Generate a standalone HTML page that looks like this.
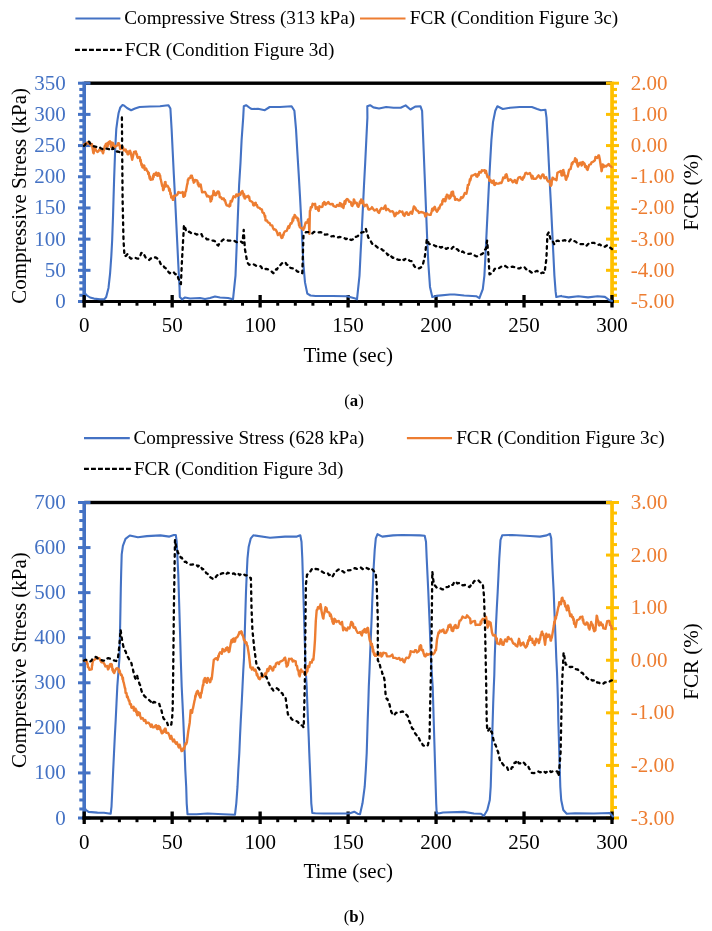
<!DOCTYPE html>
<html><head><meta charset="utf-8"><style>
html,body{margin:0;padding:0;background:#fff;}
body{width:712px;height:931px;overflow:hidden;}
svg{display:block;font-family:"Liberation Serif", serif;will-change:transform;}
</style></head><body>
<svg width="712" height="931" viewBox="0 0 712 931">
<rect width="712" height="931" fill="#fff"/>
<rect x="84.20" y="81.50" width="527.80" height="3.40" fill="#000"/>
<rect x="82.40" y="81.70" width="3.60" height="221.30" fill="#4472C4"/>
<rect x="78.00" y="300.00" width="12.50" height="3.00" fill="#4472C4"/>
<rect x="79.30" y="293.76" width="4.90" height="3.00" fill="#4472C4"/>
<rect x="79.30" y="287.53" width="4.90" height="3.00" fill="#4472C4"/>
<rect x="79.30" y="281.29" width="4.90" height="3.00" fill="#4472C4"/>
<rect x="79.30" y="275.05" width="4.90" height="3.00" fill="#4472C4"/>
<rect x="78.00" y="268.81" width="12.50" height="3.00" fill="#4472C4"/>
<rect x="79.30" y="262.58" width="4.90" height="3.00" fill="#4472C4"/>
<rect x="79.30" y="256.34" width="4.90" height="3.00" fill="#4472C4"/>
<rect x="79.30" y="250.10" width="4.90" height="3.00" fill="#4472C4"/>
<rect x="79.30" y="243.87" width="4.90" height="3.00" fill="#4472C4"/>
<rect x="78.00" y="237.63" width="12.50" height="3.00" fill="#4472C4"/>
<rect x="79.30" y="231.39" width="4.90" height="3.00" fill="#4472C4"/>
<rect x="79.30" y="225.15" width="4.90" height="3.00" fill="#4472C4"/>
<rect x="79.30" y="218.92" width="4.90" height="3.00" fill="#4472C4"/>
<rect x="79.30" y="212.68" width="4.90" height="3.00" fill="#4472C4"/>
<rect x="78.00" y="206.44" width="12.50" height="3.00" fill="#4472C4"/>
<rect x="79.30" y="200.21" width="4.90" height="3.00" fill="#4472C4"/>
<rect x="79.30" y="193.97" width="4.90" height="3.00" fill="#4472C4"/>
<rect x="79.30" y="187.73" width="4.90" height="3.00" fill="#4472C4"/>
<rect x="79.30" y="181.49" width="4.90" height="3.00" fill="#4472C4"/>
<rect x="78.00" y="175.26" width="12.50" height="3.00" fill="#4472C4"/>
<rect x="79.30" y="169.02" width="4.90" height="3.00" fill="#4472C4"/>
<rect x="79.30" y="162.78" width="4.90" height="3.00" fill="#4472C4"/>
<rect x="79.30" y="156.55" width="4.90" height="3.00" fill="#4472C4"/>
<rect x="79.30" y="150.31" width="4.90" height="3.00" fill="#4472C4"/>
<rect x="78.00" y="144.07" width="12.50" height="3.00" fill="#4472C4"/>
<rect x="79.30" y="137.83" width="4.90" height="3.00" fill="#4472C4"/>
<rect x="79.30" y="131.60" width="4.90" height="3.00" fill="#4472C4"/>
<rect x="79.30" y="125.36" width="4.90" height="3.00" fill="#4472C4"/>
<rect x="79.30" y="119.12" width="4.90" height="3.00" fill="#4472C4"/>
<rect x="78.00" y="112.89" width="12.50" height="3.00" fill="#4472C4"/>
<rect x="79.30" y="106.65" width="4.90" height="3.00" fill="#4472C4"/>
<rect x="79.30" y="100.41" width="4.90" height="3.00" fill="#4472C4"/>
<rect x="79.30" y="94.17" width="4.90" height="3.00" fill="#4472C4"/>
<rect x="79.30" y="87.94" width="4.90" height="3.00" fill="#4472C4"/>
<rect x="78.00" y="81.70" width="12.50" height="3.00" fill="#4472C4"/>
<text x="65.80" y="308.00" font-size="21" fill="#4472C4" text-anchor="end" >0</text>
<text x="65.80" y="276.81" font-size="21" fill="#4472C4" text-anchor="end" >50</text>
<text x="65.80" y="245.63" font-size="21" fill="#4472C4" text-anchor="end" >100</text>
<text x="65.80" y="214.44" font-size="21" fill="#4472C4" text-anchor="end" >150</text>
<text x="65.80" y="183.26" font-size="21" fill="#4472C4" text-anchor="end" >200</text>
<text x="65.80" y="152.07" font-size="21" fill="#4472C4" text-anchor="end" >250</text>
<text x="65.80" y="120.89" font-size="21" fill="#4472C4" text-anchor="end" >300</text>
<text x="65.80" y="89.70" font-size="21" fill="#4472C4" text-anchor="end" >350</text>
<rect x="610.20" y="81.70" width="3.70" height="221.30" fill="#FFC000"/>
<rect x="606.00" y="300.00" width="13.00" height="3.00" fill="#FFC000"/>
<rect x="612.00" y="293.76" width="5.00" height="3.00" fill="#FFC000"/>
<rect x="612.00" y="287.53" width="5.00" height="3.00" fill="#FFC000"/>
<rect x="612.00" y="281.29" width="5.00" height="3.00" fill="#FFC000"/>
<rect x="612.00" y="275.05" width="5.00" height="3.00" fill="#FFC000"/>
<rect x="606.00" y="268.81" width="13.00" height="3.00" fill="#FFC000"/>
<rect x="612.00" y="262.58" width="5.00" height="3.00" fill="#FFC000"/>
<rect x="612.00" y="256.34" width="5.00" height="3.00" fill="#FFC000"/>
<rect x="612.00" y="250.10" width="5.00" height="3.00" fill="#FFC000"/>
<rect x="612.00" y="243.87" width="5.00" height="3.00" fill="#FFC000"/>
<rect x="606.00" y="237.63" width="13.00" height="3.00" fill="#FFC000"/>
<rect x="612.00" y="231.39" width="5.00" height="3.00" fill="#FFC000"/>
<rect x="612.00" y="225.15" width="5.00" height="3.00" fill="#FFC000"/>
<rect x="612.00" y="218.92" width="5.00" height="3.00" fill="#FFC000"/>
<rect x="612.00" y="212.68" width="5.00" height="3.00" fill="#FFC000"/>
<rect x="606.00" y="206.44" width="13.00" height="3.00" fill="#FFC000"/>
<rect x="612.00" y="200.21" width="5.00" height="3.00" fill="#FFC000"/>
<rect x="612.00" y="193.97" width="5.00" height="3.00" fill="#FFC000"/>
<rect x="612.00" y="187.73" width="5.00" height="3.00" fill="#FFC000"/>
<rect x="612.00" y="181.49" width="5.00" height="3.00" fill="#FFC000"/>
<rect x="606.00" y="175.26" width="13.00" height="3.00" fill="#FFC000"/>
<rect x="612.00" y="169.02" width="5.00" height="3.00" fill="#FFC000"/>
<rect x="612.00" y="162.78" width="5.00" height="3.00" fill="#FFC000"/>
<rect x="612.00" y="156.55" width="5.00" height="3.00" fill="#FFC000"/>
<rect x="612.00" y="150.31" width="5.00" height="3.00" fill="#FFC000"/>
<rect x="606.00" y="144.07" width="13.00" height="3.00" fill="#FFC000"/>
<rect x="612.00" y="137.83" width="5.00" height="3.00" fill="#FFC000"/>
<rect x="612.00" y="131.60" width="5.00" height="3.00" fill="#FFC000"/>
<rect x="612.00" y="125.36" width="5.00" height="3.00" fill="#FFC000"/>
<rect x="612.00" y="119.12" width="5.00" height="3.00" fill="#FFC000"/>
<rect x="606.00" y="112.89" width="13.00" height="3.00" fill="#FFC000"/>
<rect x="612.00" y="106.65" width="5.00" height="3.00" fill="#FFC000"/>
<rect x="612.00" y="100.41" width="5.00" height="3.00" fill="#FFC000"/>
<rect x="612.00" y="94.17" width="5.00" height="3.00" fill="#FFC000"/>
<rect x="612.00" y="87.94" width="5.00" height="3.00" fill="#FFC000"/>
<rect x="606.00" y="81.70" width="13.00" height="3.00" fill="#FFC000"/>
<text x="630.80" y="308.00" font-size="21" fill="#ED7D31" text-anchor="start" >-5.00</text>
<text x="630.80" y="276.81" font-size="21" fill="#ED7D31" text-anchor="start" >-4.00</text>
<text x="630.80" y="245.63" font-size="21" fill="#ED7D31" text-anchor="start" >-3.00</text>
<text x="630.80" y="214.44" font-size="21" fill="#ED7D31" text-anchor="start" >-2.00</text>
<text x="630.80" y="183.26" font-size="21" fill="#ED7D31" text-anchor="start" >-1.00</text>
<text x="630.80" y="152.07" font-size="21" fill="#ED7D31" text-anchor="start" >0.00</text>
<text x="630.80" y="120.89" font-size="21" fill="#ED7D31" text-anchor="start" >1.00</text>
<text x="630.80" y="89.70" font-size="21" fill="#ED7D31" text-anchor="start" >2.00</text>
<rect x="82.40" y="300.00" width="531.50" height="3.00" fill="#000"/>
<rect x="82.55" y="295.00" width="3.30" height="12.50" fill="#000"/>
<rect x="100.29" y="301.50" width="3.00" height="4.20" fill="#000"/>
<rect x="117.89" y="301.50" width="3.00" height="4.20" fill="#000"/>
<rect x="135.48" y="301.50" width="3.00" height="4.20" fill="#000"/>
<rect x="153.07" y="301.50" width="3.00" height="4.20" fill="#000"/>
<rect x="170.52" y="295.00" width="3.30" height="12.50" fill="#000"/>
<rect x="188.26" y="301.50" width="3.00" height="4.20" fill="#000"/>
<rect x="205.85" y="301.50" width="3.00" height="4.20" fill="#000"/>
<rect x="223.45" y="301.50" width="3.00" height="4.20" fill="#000"/>
<rect x="241.04" y="301.50" width="3.00" height="4.20" fill="#000"/>
<rect x="258.48" y="295.00" width="3.30" height="12.50" fill="#000"/>
<rect x="276.23" y="301.50" width="3.00" height="4.20" fill="#000"/>
<rect x="293.82" y="301.50" width="3.00" height="4.20" fill="#000"/>
<rect x="311.41" y="301.50" width="3.00" height="4.20" fill="#000"/>
<rect x="329.01" y="301.50" width="3.00" height="4.20" fill="#000"/>
<rect x="346.45" y="295.00" width="3.30" height="12.50" fill="#000"/>
<rect x="364.19" y="301.50" width="3.00" height="4.20" fill="#000"/>
<rect x="381.79" y="301.50" width="3.00" height="4.20" fill="#000"/>
<rect x="399.38" y="301.50" width="3.00" height="4.20" fill="#000"/>
<rect x="416.97" y="301.50" width="3.00" height="4.20" fill="#000"/>
<rect x="434.42" y="295.00" width="3.30" height="12.50" fill="#000"/>
<rect x="452.16" y="301.50" width="3.00" height="4.20" fill="#000"/>
<rect x="469.75" y="301.50" width="3.00" height="4.20" fill="#000"/>
<rect x="487.35" y="301.50" width="3.00" height="4.20" fill="#000"/>
<rect x="504.94" y="301.50" width="3.00" height="4.20" fill="#000"/>
<rect x="522.38" y="295.00" width="3.30" height="12.50" fill="#000"/>
<rect x="540.13" y="301.50" width="3.00" height="4.20" fill="#000"/>
<rect x="557.72" y="301.50" width="3.00" height="4.20" fill="#000"/>
<rect x="575.31" y="301.50" width="3.00" height="4.20" fill="#000"/>
<rect x="592.91" y="301.50" width="3.00" height="4.20" fill="#000"/>
<rect x="610.35" y="295.00" width="3.30" height="12.50" fill="#000"/>
<text x="84.20" y="332.30" font-size="21" fill="#000" text-anchor="middle" >0</text>
<text x="172.17" y="332.30" font-size="21" fill="#000" text-anchor="middle" >50</text>
<text x="260.13" y="332.30" font-size="21" fill="#000" text-anchor="middle" >100</text>
<text x="348.10" y="332.30" font-size="21" fill="#000" text-anchor="middle" >150</text>
<text x="436.07" y="332.30" font-size="21" fill="#000" text-anchor="middle" >200</text>
<text x="524.03" y="332.30" font-size="21" fill="#000" text-anchor="middle" >250</text>
<text x="612.00" y="332.30" font-size="21" fill="#000" text-anchor="middle" >300</text>
<text x="348.20" y="361.50" font-size="21" fill="#000" text-anchor="middle" >Time (sec)</text>
<text transform="translate(25.9,195.90) rotate(-90)" font-size="21" text-anchor="middle">Compressive Stress (kPa)</text>
<text transform="translate(698.0,192.30) rotate(-90)" font-size="21" text-anchor="middle">FCR (%)</text>
<path d="M84.0,292.6 L87.0,295.5 L90.0,297.5 L94.0,298.6 L100.0,299.2 L104.5,299.2 L106.2,297.0 L108.5,287.9 L110.1,273.3 L111.3,256.4 L112.2,239.5 L113.0,216.9 L113.5,199.8 L114.1,179.6 L114.7,162.6 L115.2,149.1 L115.8,137.8 L116.3,128.8 L117.5,119.8 L118.6,113.0 L120.3,107.4 L122.5,105.1 L124.0,105.5 L127.0,108.0 L131.1,110.2 L135.0,108.5 L139.6,107.0 L150.0,106.5 L160.0,106.3 L166.0,105.5 L168.5,105.2 L170.4,108.5 L171.6,128.9 L172.7,151.5 L173.8,174.0 L175.0,196.6 L176.1,219.2 L177.2,241.8 L178.3,264.4 L179.5,287.0 L179.8,297.0 L182.0,299.3 L185.0,297.5 L190.0,298.5 L200.0,298.0 L205.0,299.0 L210.0,298.0 L215.0,296.5 L220.0,297.5 L228.0,298.0 L233.0,299.3 L235.5,275.6 L236.4,253.0 L237.3,230.4 L238.2,207.9 L239.1,185.3 L240.5,162.7 L241.6,140.1 L243.2,117.6 L243.8,106.3 L246.1,105.2 L250.6,108.5 L252.0,109.0 L258.0,108.8 L264.8,110.2 L269.7,107.0 L280.0,107.0 L291.6,106.3 L294.4,110.8 L296.0,128.9 L297.3,151.4 L298.7,174.0 L300.0,196.6 L301.2,219.2 L302.3,241.7 L303.4,264.3 L305.0,282.4 L307.3,293.6 L310.5,295.5 L315.6,296.0 L332.5,296.0 L347.0,296.2 L355.4,298.6 L357.0,299.3 L359.5,275.6 L360.6,253.0 L361.8,230.4 L362.9,207.9 L364.0,185.3 L365.2,162.7 L366.3,140.1 L367.4,117.6 L367.3,106.3 L370.1,105.2 L373.4,107.4 L379.0,108.5 L386.2,107.0 L393.5,107.8 L400.7,107.8 L405.6,105.4 L410.4,109.5 L415.2,106.6 L420.5,106.3 L422.1,110.8 L422.8,128.9 L423.7,151.4 L424.6,174.0 L425.5,196.6 L426.4,219.2 L427.3,241.7 L428.4,264.3 L430.0,286.9 L432.3,297.0 L436.3,295.9 L450.0,294.5 L454.5,294.5 L464.2,295.5 L476.2,296.2 L479.4,298.2 L482.8,289.2 L484.4,275.6 L485.6,253.0 L486.7,230.4 L487.8,207.9 L488.9,185.3 L490.1,162.7 L491.4,140.1 L493.0,122.1 L495.3,110.8 L497.4,106.3 L502.8,109.0 L510.0,107.8 L519.7,107.0 L531.8,107.0 L537.2,109.0 L540.9,110.2 L545.4,109.7 L546.5,117.6 L547.7,140.1 L548.8,162.7 L549.9,185.3 L551.1,207.9 L552.2,230.4 L553.3,253.0 L554.4,275.6 L555.6,291.4 L556.3,297.0 L561.2,295.9 L561.4,296.2 L568.6,297.4 L578.3,296.2 L588.0,297.4 L597.6,296.2 L604.9,296.9 L609.7,300.3 L612.0,301.0" fill="none" stroke="#4472C4" stroke-width="2.1" stroke-linejoin="round" stroke-linecap="round"/>
<path d="M84.0,144.5 L84.9,144.0 L85.8,144.4 L86.8,142.7 L88.6,143.6 L89.5,143.5 L90.5,145.0 L91.9,144.0 L93.3,152.9 L93.7,153.2 L94.0,149.6 L94.3,150.5 L94.7,147.8 L95.3,148.0 L96.0,150.5 L97.4,151.9 L98.3,151.4 L99.3,149.6 L101.1,150.5 L102.0,150.5 L103.0,153.3 L103.3,152.6 L103.7,149.3 L104.1,149.9 L104.4,147.8 L104.9,145.8 L105.3,146.5 L105.8,144.0 L106.5,143.6 L107.2,146.8 L107.7,146.1 L108.1,142.8 L108.6,142.2 L110.0,141.3 L110.3,144.2 L110.7,142.0 L111.0,146.9 L111.3,146.8 L111.8,144.2 L112.2,146.1 L112.7,142.7 L113.3,143.6 L114.0,147.7 L114.6,147.3 L116.0,145.9 L117.4,145.4 L118.1,143.2 L118.8,143.1 L119.2,145.4 L119.7,145.3 L120.1,148.7 L120.6,149.1 L122.0,147.8 L123.0,147.3 L123.9,150.5 L125.7,149.6 L126.3,152.0 L127.0,151.2 L127.6,154.2 L128.5,154.2 L129.4,151.0 L130.1,150.8 L130.8,152.9 L132.2,159.8 L134.0,151.9 L135.9,151.5 L136.4,154.5 L136.9,154.0 L137.3,157.0 L137.8,157.9 L139.6,157.0 L139.9,157.5 L140.3,161.4 L140.7,160.0 L141.0,162.6 L141.5,165.2 L141.9,164.2 L142.4,167.2 L143.1,167.6 L143.8,165.4 L144.3,165.6 L144.7,169.7 L145.2,169.1 L146.1,168.4 L147.0,170.9 L147.9,171.6 L148.3,174.0 L148.8,172.9 L149.2,175.8 L149.7,178.6 L150.1,176.6 L150.6,179.9 L152.5,179.0 L152.8,179.4 L153.2,175.4 L153.6,177.2 L153.9,173.9 L155.3,174.8 L155.8,172.9 L156.2,172.5 L156.9,175.4 L157.6,175.8 L158.5,173.1 L159.4,173.9 L159.8,176.1 L160.1,175.4 L160.5,178.8 L160.8,179.5 L162.2,186.0 L162.7,185.6 L163.1,190.2 L163.6,189.7 L165.0,182.2 L165.5,182.0 L165.9,186.6 L166.4,186.0 L167.6,185.8 L168.7,187.8 L169.2,190.7 L169.6,188.8 L170.1,191.5 L170.4,194.4 L170.8,193.0 L171.2,197.6 L171.5,197.1 L172.2,196.5 L172.9,199.9 L173.5,199.9 L174.1,195.8 L174.7,196.1 L176.6,195.2 L177.5,194.3 L178.4,192.0 L180.3,192.9 L182.1,192.4 L182.7,192.1 L183.4,196.8 L184.0,196.6 L184.5,193.2 L184.9,195.9 L185.4,191.7 L185.9,191.5 L187.2,184.1 L187.5,183.9 L187.9,179.7 L188.2,180.5 L188.6,178.5 L190.0,178.1 L190.9,175.7 L191.9,175.8 L192.3,178.0 L192.6,177.8 L193.0,180.6 L193.3,179.6 L193.7,182.7 L194.4,182.1 L195.1,179.9 L197.0,180.4 L197.4,180.9 L197.9,184.6 L198.4,183.0 L198.8,186.4 L199.8,186.2 L200.7,184.6 L202.1,192.4 L203.9,192.0 L205.1,191.9 L206.2,194.3 L207.1,196.5 L208.0,195.8 L209.4,197.1 L210.0,196.4 L210.6,201.5 L211.2,200.9 L211.5,197.6 L211.9,199.1 L212.2,195.5 L212.6,195.3 L213.1,195.2 L213.5,190.9 L214.0,191.6 L214.5,194.9 L214.9,193.2 L215.4,195.3 L216.1,195.0 L216.8,193.0 L217.8,191.4 L218.7,191.6 L219.0,193.9 L219.3,193.0 L219.7,197.2 L220.0,197.1 L220.9,197.1 L221.9,199.0 L223.8,198.5 L224.4,200.5 L225.0,200.1 L225.6,202.7 L226.6,205.3 L227.5,205.5 L229.3,206.4 L229.8,203.7 L230.2,205.9 L230.7,200.9 L231.2,201.3 L231.9,201.5 L232.6,199.0 L233.5,196.3 L234.4,196.7 L235.4,197.2 L236.3,194.4 L237.7,195.8 L238.6,194.2 L239.5,193.9 L240.4,194.9 L241.4,192.0 L242.3,190.9 L243.2,193.4 L243.7,196.6 L244.1,194.2 L244.6,198.4 L245.1,198.5 L246.0,196.4 L246.9,196.7 L248.3,195.8 L248.8,197.8 L249.2,196.8 L249.7,200.3 L250.2,200.9 L252.0,201.8 L252.6,202.3 L253.3,205.2 L253.9,205.5 L254.8,203.3 L255.7,202.7 L256.3,205.3 L257.0,205.1 L257.6,207.3 L259.4,207.8 L260.4,209.1 L261.3,209.2 L261.9,209.6 L262.5,212.4 L263.1,212.9 L263.8,212.9 L264.5,215.2 L264.9,217.1 L265.2,215.8 L265.5,220.5 L265.9,220.3 L266.9,220.4 L267.8,222.2 L269.6,223.1 L270.6,225.2 L271.5,225.4 L272.2,225.4 L272.9,227.7 L273.8,229.6 L274.6,229.3 L275.8,229.9 L277.0,232.1 L277.9,235.1 L278.8,234.4 L279.8,233.0 L280.7,235.8 L281.6,238.0 L282.5,237.6 L283.0,234.7 L283.4,235.3 L283.9,233.0 L284.9,231.3 L285.8,231.1 L286.7,230.9 L287.6,228.4 L288.4,226.3 L289.1,228.0 L289.9,225.1 L290.7,223.2 L291.4,223.6 L292.2,221.9 L292.7,218.5 L293.2,220.5 L293.6,216.9 L294.1,217.7 L294.6,214.9 L295.3,215.7 L296.0,217.7 L297.3,217.7 L297.8,220.6 L298.2,218.7 L298.7,222.3 L299.1,225.5 L299.4,223.2 L299.8,227.1 L300.1,227.4 L302.0,228.4 L303.4,229.8 L303.9,227.2 L304.3,227.9 L304.8,225.6 L305.7,222.4 L306.6,222.8 L307.3,222.6 L308.0,219.6 L308.4,219.4 L308.9,222.8 L309.4,233.9 L309.9,210.8 L310.3,210.6 L310.8,207.3 L311.2,207.0 L311.9,207.2 L312.6,203.8 L314.5,204.7 L315.1,203.7 L315.7,208.8 L316.3,208.0 L317.2,207.3 L318.2,210.3 L318.8,210.9 L319.4,206.1 L320.0,206.6 L321.9,207.0 L322.5,206.7 L323.0,203.1 L323.6,204.4 L324.2,202.0 L324.9,202.7 L325.6,204.7 L327.0,203.3 L328.4,202.0 L329.3,203.8 L330.2,204.3 L332.0,204.0 L332.7,203.9 L333.4,205.9 L335.2,206.8 L336.1,206.8 L337.1,204.9 L339.0,205.9 L339.9,203.1 L340.8,203.5 L341.4,206.6 L342.1,204.4 L342.7,206.8 L343.4,207.9 L344.0,204.9 L344.6,201.3 L345.3,203.9 L345.9,200.3 L347.0,198.9 L348.2,199.8 L349.1,201.7 L350.1,201.7 L350.9,202.2 L351.6,205.4 L352.4,205.9 L352.8,203.5 L353.3,204.4 L353.8,199.4 L354.2,199.8 L355.1,203.1 L356.1,202.6 L356.8,202.9 L357.5,205.9 L358.4,206.8 L359.3,204.5 L359.9,201.5 L360.5,202.9 L361.1,199.4 L361.7,199.8 L362.3,203.2 L362.9,200.8 L363.5,204.0 L364.6,206.2 L365.8,204.9 L366.8,204.7 L367.7,207.2 L368.4,209.3 L369.1,209.6 L370.9,208.6 L372.0,207.1 L373.2,209.1 L374.4,210.6 L375.6,210.0 L376.8,209.1 L377.9,211.9 L379.0,213.0 L380.2,210.0 L381.4,208.1 L382.5,208.6 L383.6,208.7 L384.8,206.3 L385.4,205.4 L386.1,210.2 L386.7,209.6 L387.9,208.9 L389.0,210.0 L390.1,211.5 L391.3,211.4 L392.5,211.3 L393.6,212.8 L394.6,216.2 L395.5,215.6 L396.4,212.7 L397.3,213.5 L398.5,213.1 L399.6,211.0 L401.4,212.0 L402.4,211.6 L403.3,214.8 L404.5,215.9 L405.6,212.9 L406.8,212.3 L407.9,214.8 L409.0,214.7 L410.2,212.4 L411.1,211.7 L412.1,213.8 L413.9,206.4 L415.3,207.8 L416.2,210.0 L417.2,210.6 L418.1,211.1 L419.0,212.9 L420.9,212.0 L422.7,212.4 L424.6,213.4 L425.3,216.6 L426.0,215.7 L426.9,213.4 L427.8,214.3 L429.7,214.8 L430.6,214.8 L431.5,212.0 L432.3,208.6 L433.1,210.5 L433.9,207.8 L434.8,206.8 L435.7,209.7 L436.9,211.7 L438.0,210.1 L438.6,208.0 L439.3,208.6 L439.9,206.4 L440.8,204.5 L441.7,204.6 L442.1,204.3 L442.4,200.6 L442.8,201.8 L443.1,199.5 L444.1,199.2 L445.0,201.3 L445.5,200.8 L445.9,196.7 L446.4,198.5 L446.8,194.8 L447.3,194.8 L448.7,196.2 L449.4,198.6 L450.1,198.1 L450.6,194.8 L451.0,196.7 L451.5,192.2 L451.9,194.3 L452.4,191.6 L453.0,191.7 L453.6,196.1 L454.2,196.2 L454.7,196.8 L455.1,199.9 L455.6,199.9 L456.8,199.0 L457.9,199.9 L459.0,200.5 L460.2,199.9 L461.1,197.2 L462.0,198.0 L462.9,197.5 L463.9,195.2 L464.8,193.0 L465.7,193.4 L466.4,193.7 L467.1,190.6 L467.3,187.8 L467.6,188.9 L467.8,185.0 L468.0,185.0 L468.7,185.0 L469.4,182.2 L469.9,179.2 L470.3,180.5 L470.8,178.5 L471.5,175.7 L472.2,175.8 L474.1,174.8 L475.5,173.9 L476.4,176.3 L477.3,176.7 L477.9,174.1 L478.6,175.3 L479.2,172.0 L481.0,172.5 L481.9,170.2 L482.9,170.7 L484.7,170.2 L485.3,172.9 L486.0,170.9 L486.6,173.9 L487.5,177.3 L488.4,176.7 L488.9,176.7 L489.3,180.7 L489.8,180.4 L490.5,179.9 L491.2,182.2 L492.1,182.9 L493.1,180.9 L493.7,180.6 L494.3,184.9 L494.9,185.0 L495.9,182.9 L496.8,183.6 L498.6,183.6 L500.5,182.7 L501.4,183.1 L502.3,180.9 L503.2,177.5 L504.2,178.1 L504.9,178.1 L505.6,174.8 L506.5,174.3 L507.4,177.6 L508.4,180.8 L509.3,179.9 L510.5,179.2 L511.6,180.4 L512.8,182.3 L513.9,181.3 L514.8,180.0 L515.8,182.7 L516.7,183.0 L517.6,179.5 L518.5,177.5 L519.5,177.1 L520.3,177.0 L521.5,179.2 L522.6,179.8 L523.2,177.1 L523.9,177.7 L524.5,175.6 L525.4,173.2 L526.3,172.8 L527.5,174.0 L528.7,173.7 L529.9,173.0 L531.0,175.6 L531.8,178.4 L532.5,175.8 L533.3,178.8 L535.1,178.8 L536.3,178.5 L537.5,176.5 L538.6,175.3 L539.8,177.4 L540.7,178.3 L541.6,176.0 L542.5,174.5 L543.5,174.7 L544.4,178.2 L545.3,177.9 L546.2,177.0 L547.2,180.2 L548.4,181.6 L549.5,181.1 L550.0,180.6 L550.4,185.4 L550.9,185.8 L551.2,182.9 L551.5,184.8 L551.8,181.1 L552.5,177.7 L553.2,177.9 L554.2,179.4 L555.1,179.3 L556.5,180.2 L557.4,172.8 L559.2,171.9 L560.6,171.0 L561.1,171.3 L561.5,175.4 L562.0,175.6 L562.4,173.1 L562.7,173.7 L563.0,170.3 L563.4,170.0 L563.8,173.1 L564.1,172.2 L564.4,175.6 L564.8,175.6 L565.3,175.7 L565.7,179.0 L566.2,179.8 L566.9,177.1 L567.6,176.5 L569.0,170.0 L570.0,169.1 L570.6,169.0 L571.3,165.8 L571.8,163.2 L572.4,164.0 L572.9,162.0 L574.5,161.3 L575.1,158.1 L575.8,159.1 L576.2,162.3 L576.7,159.8 L577.1,163.3 L577.6,165.7 L578.1,166.5 L578.5,164.3 L579.0,164.8 L579.4,162.9 L580.7,162.9 L581.2,162.4 L581.6,165.5 L582.2,164.8 L582.9,162.0 L584.2,163.3 L584.6,163.8 L585.1,167.1 L585.5,167.1 L586.1,166.1 L586.8,169.1 L587.6,169.9 L588.4,167.1 L589.2,164.8 L590.0,164.5 L590.8,164.2 L591.6,162.3 L593.3,161.6 L594.9,160.3 L595.5,156.9 L596.2,157.4 L597.3,157.9 L598.4,155.5 L599.0,155.4 L599.7,158.7 L600.7,165.2 L601.0,167.4 L601.2,167.4 L601.5,171.2 L601.7,171.0 L602.6,164.5 L603.1,164.6 L603.6,167.1 L604.9,165.8 L606.2,166.5 L607.5,164.9 L608.8,163.9 L609.5,165.6 L610.1,165.8 L611.7,167.1" fill="none" stroke="#ED7D31" stroke-width="2.4" stroke-linejoin="round" stroke-linecap="round"/>
<path d="M84.0,145.9 L85.0,145.1 L85.9,143.1 L88.2,141.3 L89.3,141.9 L90.5,144.0 L92.3,145.4 L94.2,146.4 L96.5,146.8 L98.4,146.4 L100.7,148.2 L102.5,149.1 L104.4,148.2 L106.7,148.7 L109.0,149.1 L110.9,150.5 L111.8,150.2 L112.7,147.8 L114.6,150.1 L116.9,151.5 L119.2,151.9 L121.1,153.3 M121.9,117.4 L122.6,200.0 L123.5,240.0 L124.5,256.3 L126.0,255.8 L127.5,254.0 L128.7,254.8 L129.9,257.9 L131.1,258.7 L132.9,257.8 L134.7,257.5 L136.5,258.3 L138.3,258.7 L139.2,256.7 L140.2,256.1 L141.1,253.3 L142.0,252.7 L143.2,255.1 L144.4,255.2 L145.6,257.5 L147.4,259.5 L149.2,260.0 L150.8,258.4 L152.4,258.7 L154.0,257.5 L155.8,257.5 L157.7,258.7 L158.6,260.6 L159.5,260.7 L160.4,263.5 L161.3,264.8 L162.9,265.1 L164.5,267.5 L166.1,268.4 L167.3,269.2 L168.5,272.1 L169.7,273.2 L171.6,272.0 L173.4,272.0 L175.3,274.2 L177.2,274.4 L177.8,276.3 L178.4,278.9 L179.1,279.8 L179.7,282.9 L180.9,284.1 L182.0,260.0 L184.0,224.9 L184.7,227.4 L185.4,228.3 L186.2,231.5 L186.9,232.2 L189.3,231.7 L191.7,233.4 L193.3,234.1 L195.0,233.6 L196.6,234.6 L198.4,234.3 L200.2,233.4 L201.4,234.1 L202.6,236.6 L203.8,237.0 L205.4,237.5 L207.0,239.4 L208.6,239.4 L210.2,239.6 L211.9,240.6 L213.5,240.6 L215.1,241.3 L216.7,244.4 L218.3,245.5 L219.5,243.3 L220.7,243.0 L221.9,240.6 L223.8,239.4 L225.6,239.4 L228.0,240.5 L230.4,240.6 L232.2,240.4 L234.0,240.6 L236.4,242.1 L238.8,241.8 L240.7,241.3 L242.5,243.0 L243.7,229.8 L244.9,249.0 L247.3,262.4 L249.1,264.7 L250.9,264.8 L252.7,264.0 L254.5,264.8 L256.4,265.9 L258.2,266.0 L260.0,266.0 L261.2,266.7 L262.4,269.2 L263.6,269.6 L266.1,268.8 L268.5,269.6 L270.1,271.1 L271.7,271.6 L273.3,273.2 L274.5,272.2 L275.7,269.5 L276.9,269.6 L278.1,267.2 L279.3,265.3 L280.5,265.0 L281.7,263.6 L283.5,262.1 L285.4,262.4 L286.6,264.6 L287.8,264.9 L289.0,267.2 L291.4,268.2 L293.8,268.4 L295.4,269.0 L297.0,271.3 L298.6,272.0 L300.5,271.7 L302.3,273.2 L303.5,234.6 L304.7,233.7 L305.9,232.2 L308.3,232.1 L310.7,233.4 L312.3,233.4 L314.0,231.8 L315.6,232.2 L318.0,232.4 L320.4,232.2 L322.0,232.6 L323.6,234.3 L325.2,234.6 L327.6,234.4 L330.0,235.8 L331.6,236.4 L333.3,236.0 L334.9,237.0 L337.3,237.4 L339.7,237.0 L342.1,237.1 L344.5,238.2 L346.1,239.2 L347.8,237.9 L349.4,239.4 L351.2,240.0 L353.0,239.4 L354.2,237.1 L355.4,237.0 L357.5,236.2 L359.7,234.6 L361.5,232.4 L363.3,232.2 L364.5,230.9 L365.7,228.6 L366.3,230.3 L366.9,233.7 L367.5,233.9 L368.1,237.0 L369.3,239.2 L370.5,240.6 L371.7,243.0 L373.3,245.1 L375.0,245.0 L376.6,246.7 L378.2,247.9 L379.8,248.0 L381.4,249.0 L383.0,250.5 L384.6,250.7 L386.2,252.7 L387.8,255.0 L389.5,254.0 L391.1,256.3 L392.7,257.8 L394.3,257.7 L395.9,258.7 L398.3,259.8 L400.7,260.0 L402.3,258.7 L404.0,260.1 L405.6,258.7 L407.6,258.8 L409.6,260.8 L411.6,261.2 L412.8,262.5 L414.0,265.8 L415.2,267.2 L417.0,267.0 L418.8,268.4 L420.6,267.6 L422.5,266.0 L424.9,256.3 L426.8,239.4 L427.8,239.9 L428.7,243.6 L429.7,244.2 L432.1,244.5 L434.5,245.5 L436.1,246.4 L437.8,245.3 L439.4,246.7 L441.2,247.6 L443.0,246.5 L444.8,247.9 L446.4,248.9 L448.1,247.8 L449.7,249.0 L451.3,249.1 L452.9,247.1 L454.5,246.7 L456.1,248.8 L457.7,249.5 L459.3,251.5 L460.9,252.7 L462.6,251.5 L464.2,252.7 L466.6,253.6 L469.0,253.9 L471.4,253.5 L473.8,255.1 L476.2,256.3 L478.6,256.3 L480.5,254.7 L482.3,253.9 L483.5,252.9 L484.7,249.6 L485.9,249.0 L487.1,240.6 L488.3,253.9 L489.5,274.4 L491.9,273.2 L493.1,272.3 L494.4,269.2 L495.6,268.4 L498.0,268.8 L500.4,267.2 L502.8,265.5 L505.2,266.0 L507.6,267.5 L510.0,267.2 L512.5,266.6 L514.9,267.2 L517.3,268.5 L519.7,268.4 L522.1,266.8 L524.5,267.2 L526.1,269.3 L527.8,268.9 L529.4,270.8 L531.5,272.5 L533.6,273.2 L535.4,271.5 L537.2,270.8 L539.0,272.9 L540.9,273.2 L542.7,272.5 L544.5,273.2 L546.4,258.7 L547.4,234.6 L548.8,232.2 L550.5,239.4 L551.7,241.2 L553.0,241.8 L554.2,244.2 L555.4,244.0 L556.6,240.9 L557.8,240.6 L560.2,241.6 L562.6,240.6 L565.0,240.2 L567.4,241.8 L569.0,241.7 L570.7,239.3 L572.3,239.4 L573.9,241.1 L575.5,241.5 L577.1,243.0 L579.5,244.1 L581.9,244.2 L583.5,244.2 L585.2,246.1 L586.8,245.5 L588.4,243.8 L590.0,244.5 L591.6,243.0 L594.0,242.8 L596.4,244.2 L598.0,244.9 L599.7,244.4 L601.3,245.5 L603.1,246.9 L604.9,246.7 L606.7,245.5 L608.5,245.5 L610.2,247.7 L612.0,249.0" fill="none" stroke="#000" stroke-width="2.3" stroke-dasharray="2.6 4.4" stroke-linecap="round" stroke-linejoin="round"/>
<line x1="75.4" y1="18.5" x2="120.4" y2="18.5" stroke="#4472C4" stroke-width="2.2"/>
<line x1="360.0" y1="18.5" x2="405.5" y2="18.5" stroke="#ED7D31" stroke-width="2.2"/>
<line x1="75.0" y1="49.8" x2="123.4" y2="49.8" stroke="#000" stroke-width="2.3" stroke-dasharray="4.9 2.1"/>
<text x="124.30" y="24.40" font-size="19.2" fill="#000" text-anchor="start" >Compressive Stress (313 kPa)</text>
<text x="409.80" y="24.40" font-size="19.2" fill="#000" text-anchor="start" >FCR (Condition Figure 3c)</text>
<text x="124.80" y="55.60" font-size="19.2" fill="#000" text-anchor="start" >FCR (Condition Figure 3d)</text>
<text x="354" y="406.00" font-size="16.8" text-anchor="middle">(<tspan font-weight="bold">a</tspan>)</text>
<rect x="84.20" y="500.80" width="527.80" height="3.40" fill="#000"/>
<rect x="82.40" y="501.00" width="3.60" height="318.50" fill="#4472C4"/>
<rect x="78.00" y="816.50" width="12.50" height="3.00" fill="#4472C4"/>
<rect x="79.30" y="807.49" width="4.90" height="3.00" fill="#4472C4"/>
<rect x="79.30" y="798.47" width="4.90" height="3.00" fill="#4472C4"/>
<rect x="79.30" y="789.46" width="4.90" height="3.00" fill="#4472C4"/>
<rect x="79.30" y="780.44" width="4.90" height="3.00" fill="#4472C4"/>
<rect x="78.00" y="771.43" width="12.50" height="3.00" fill="#4472C4"/>
<rect x="79.30" y="762.41" width="4.90" height="3.00" fill="#4472C4"/>
<rect x="79.30" y="753.40" width="4.90" height="3.00" fill="#4472C4"/>
<rect x="79.30" y="744.39" width="4.90" height="3.00" fill="#4472C4"/>
<rect x="79.30" y="735.37" width="4.90" height="3.00" fill="#4472C4"/>
<rect x="78.00" y="726.36" width="12.50" height="3.00" fill="#4472C4"/>
<rect x="79.30" y="717.34" width="4.90" height="3.00" fill="#4472C4"/>
<rect x="79.30" y="708.33" width="4.90" height="3.00" fill="#4472C4"/>
<rect x="79.30" y="699.31" width="4.90" height="3.00" fill="#4472C4"/>
<rect x="79.30" y="690.30" width="4.90" height="3.00" fill="#4472C4"/>
<rect x="78.00" y="681.29" width="12.50" height="3.00" fill="#4472C4"/>
<rect x="79.30" y="672.27" width="4.90" height="3.00" fill="#4472C4"/>
<rect x="79.30" y="663.26" width="4.90" height="3.00" fill="#4472C4"/>
<rect x="79.30" y="654.24" width="4.90" height="3.00" fill="#4472C4"/>
<rect x="79.30" y="645.23" width="4.90" height="3.00" fill="#4472C4"/>
<rect x="78.00" y="636.21" width="12.50" height="3.00" fill="#4472C4"/>
<rect x="79.30" y="627.20" width="4.90" height="3.00" fill="#4472C4"/>
<rect x="79.30" y="618.19" width="4.90" height="3.00" fill="#4472C4"/>
<rect x="79.30" y="609.17" width="4.90" height="3.00" fill="#4472C4"/>
<rect x="79.30" y="600.16" width="4.90" height="3.00" fill="#4472C4"/>
<rect x="78.00" y="591.14" width="12.50" height="3.00" fill="#4472C4"/>
<rect x="79.30" y="582.13" width="4.90" height="3.00" fill="#4472C4"/>
<rect x="79.30" y="573.11" width="4.90" height="3.00" fill="#4472C4"/>
<rect x="79.30" y="564.10" width="4.90" height="3.00" fill="#4472C4"/>
<rect x="79.30" y="555.09" width="4.90" height="3.00" fill="#4472C4"/>
<rect x="78.00" y="546.07" width="12.50" height="3.00" fill="#4472C4"/>
<rect x="79.30" y="537.06" width="4.90" height="3.00" fill="#4472C4"/>
<rect x="79.30" y="528.04" width="4.90" height="3.00" fill="#4472C4"/>
<rect x="79.30" y="519.03" width="4.90" height="3.00" fill="#4472C4"/>
<rect x="79.30" y="510.01" width="4.90" height="3.00" fill="#4472C4"/>
<rect x="78.00" y="501.00" width="12.50" height="3.00" fill="#4472C4"/>
<text x="65.80" y="824.50" font-size="21" fill="#4472C4" text-anchor="end" >0</text>
<text x="65.80" y="779.43" font-size="21" fill="#4472C4" text-anchor="end" >100</text>
<text x="65.80" y="734.36" font-size="21" fill="#4472C4" text-anchor="end" >200</text>
<text x="65.80" y="689.29" font-size="21" fill="#4472C4" text-anchor="end" >300</text>
<text x="65.80" y="644.21" font-size="21" fill="#4472C4" text-anchor="end" >400</text>
<text x="65.80" y="599.14" font-size="21" fill="#4472C4" text-anchor="end" >500</text>
<text x="65.80" y="554.07" font-size="21" fill="#4472C4" text-anchor="end" >600</text>
<text x="65.80" y="509.00" font-size="21" fill="#4472C4" text-anchor="end" >700</text>
<rect x="610.20" y="501.00" width="3.70" height="318.50" fill="#FFC000"/>
<rect x="606.00" y="816.50" width="13.00" height="3.00" fill="#FFC000"/>
<rect x="612.00" y="805.98" width="5.00" height="3.00" fill="#FFC000"/>
<rect x="612.00" y="795.47" width="5.00" height="3.00" fill="#FFC000"/>
<rect x="612.00" y="784.95" width="5.00" height="3.00" fill="#FFC000"/>
<rect x="612.00" y="774.43" width="5.00" height="3.00" fill="#FFC000"/>
<rect x="606.00" y="763.92" width="13.00" height="3.00" fill="#FFC000"/>
<rect x="612.00" y="753.40" width="5.00" height="3.00" fill="#FFC000"/>
<rect x="612.00" y="742.88" width="5.00" height="3.00" fill="#FFC000"/>
<rect x="612.00" y="732.37" width="5.00" height="3.00" fill="#FFC000"/>
<rect x="612.00" y="721.85" width="5.00" height="3.00" fill="#FFC000"/>
<rect x="606.00" y="711.33" width="13.00" height="3.00" fill="#FFC000"/>
<rect x="612.00" y="700.82" width="5.00" height="3.00" fill="#FFC000"/>
<rect x="612.00" y="690.30" width="5.00" height="3.00" fill="#FFC000"/>
<rect x="612.00" y="679.78" width="5.00" height="3.00" fill="#FFC000"/>
<rect x="612.00" y="669.27" width="5.00" height="3.00" fill="#FFC000"/>
<rect x="606.00" y="658.75" width="13.00" height="3.00" fill="#FFC000"/>
<rect x="612.00" y="648.23" width="5.00" height="3.00" fill="#FFC000"/>
<rect x="612.00" y="637.72" width="5.00" height="3.00" fill="#FFC000"/>
<rect x="612.00" y="627.20" width="5.00" height="3.00" fill="#FFC000"/>
<rect x="612.00" y="616.68" width="5.00" height="3.00" fill="#FFC000"/>
<rect x="606.00" y="606.17" width="13.00" height="3.00" fill="#FFC000"/>
<rect x="612.00" y="595.65" width="5.00" height="3.00" fill="#FFC000"/>
<rect x="612.00" y="585.13" width="5.00" height="3.00" fill="#FFC000"/>
<rect x="612.00" y="574.62" width="5.00" height="3.00" fill="#FFC000"/>
<rect x="612.00" y="564.10" width="5.00" height="3.00" fill="#FFC000"/>
<rect x="606.00" y="553.58" width="13.00" height="3.00" fill="#FFC000"/>
<rect x="612.00" y="543.07" width="5.00" height="3.00" fill="#FFC000"/>
<rect x="612.00" y="532.55" width="5.00" height="3.00" fill="#FFC000"/>
<rect x="612.00" y="522.03" width="5.00" height="3.00" fill="#FFC000"/>
<rect x="612.00" y="511.52" width="5.00" height="3.00" fill="#FFC000"/>
<rect x="606.00" y="501.00" width="13.00" height="3.00" fill="#FFC000"/>
<text x="630.80" y="824.50" font-size="21" fill="#ED7D31" text-anchor="start" >-3.00</text>
<text x="630.80" y="771.92" font-size="21" fill="#ED7D31" text-anchor="start" >-2.00</text>
<text x="630.80" y="719.33" font-size="21" fill="#ED7D31" text-anchor="start" >-1.00</text>
<text x="630.80" y="666.75" font-size="21" fill="#ED7D31" text-anchor="start" >0.00</text>
<text x="630.80" y="614.17" font-size="21" fill="#ED7D31" text-anchor="start" >1.00</text>
<text x="630.80" y="561.58" font-size="21" fill="#ED7D31" text-anchor="start" >2.00</text>
<text x="630.80" y="509.00" font-size="21" fill="#ED7D31" text-anchor="start" >3.00</text>
<rect x="82.40" y="816.25" width="531.50" height="3.50" fill="#000"/>
<rect x="82.55" y="811.50" width="3.30" height="12.50" fill="#000"/>
<rect x="100.29" y="818.00" width="3.00" height="4.20" fill="#000"/>
<rect x="117.89" y="818.00" width="3.00" height="4.20" fill="#000"/>
<rect x="135.48" y="818.00" width="3.00" height="4.20" fill="#000"/>
<rect x="153.07" y="818.00" width="3.00" height="4.20" fill="#000"/>
<rect x="170.52" y="811.50" width="3.30" height="12.50" fill="#000"/>
<rect x="188.26" y="818.00" width="3.00" height="4.20" fill="#000"/>
<rect x="205.85" y="818.00" width="3.00" height="4.20" fill="#000"/>
<rect x="223.45" y="818.00" width="3.00" height="4.20" fill="#000"/>
<rect x="241.04" y="818.00" width="3.00" height="4.20" fill="#000"/>
<rect x="258.48" y="811.50" width="3.30" height="12.50" fill="#000"/>
<rect x="276.23" y="818.00" width="3.00" height="4.20" fill="#000"/>
<rect x="293.82" y="818.00" width="3.00" height="4.20" fill="#000"/>
<rect x="311.41" y="818.00" width="3.00" height="4.20" fill="#000"/>
<rect x="329.01" y="818.00" width="3.00" height="4.20" fill="#000"/>
<rect x="346.45" y="811.50" width="3.30" height="12.50" fill="#000"/>
<rect x="364.19" y="818.00" width="3.00" height="4.20" fill="#000"/>
<rect x="381.79" y="818.00" width="3.00" height="4.20" fill="#000"/>
<rect x="399.38" y="818.00" width="3.00" height="4.20" fill="#000"/>
<rect x="416.97" y="818.00" width="3.00" height="4.20" fill="#000"/>
<rect x="434.42" y="811.50" width="3.30" height="12.50" fill="#000"/>
<rect x="452.16" y="818.00" width="3.00" height="4.20" fill="#000"/>
<rect x="469.75" y="818.00" width="3.00" height="4.20" fill="#000"/>
<rect x="487.35" y="818.00" width="3.00" height="4.20" fill="#000"/>
<rect x="504.94" y="818.00" width="3.00" height="4.20" fill="#000"/>
<rect x="522.38" y="811.50" width="3.30" height="12.50" fill="#000"/>
<rect x="540.13" y="818.00" width="3.00" height="4.20" fill="#000"/>
<rect x="557.72" y="818.00" width="3.00" height="4.20" fill="#000"/>
<rect x="575.31" y="818.00" width="3.00" height="4.20" fill="#000"/>
<rect x="592.91" y="818.00" width="3.00" height="4.20" fill="#000"/>
<rect x="610.35" y="811.50" width="3.30" height="12.50" fill="#000"/>
<text x="84.20" y="848.80" font-size="21" fill="#000" text-anchor="middle" >0</text>
<text x="172.17" y="848.80" font-size="21" fill="#000" text-anchor="middle" >50</text>
<text x="260.13" y="848.80" font-size="21" fill="#000" text-anchor="middle" >100</text>
<text x="348.10" y="848.80" font-size="21" fill="#000" text-anchor="middle" >150</text>
<text x="436.07" y="848.80" font-size="21" fill="#000" text-anchor="middle" >200</text>
<text x="524.03" y="848.80" font-size="21" fill="#000" text-anchor="middle" >250</text>
<text x="612.00" y="848.80" font-size="21" fill="#000" text-anchor="middle" >300</text>
<text x="348.20" y="878.00" font-size="21" fill="#000" text-anchor="middle" >Time (sec)</text>
<text transform="translate(25.9,660.10) rotate(-90)" font-size="21" text-anchor="middle">Compressive Stress (kPa)</text>
<text transform="translate(698.0,661.50) rotate(-90)" font-size="21" text-anchor="middle">FCR (%)</text>
<path d="M84.0,807.4 L86.0,810.0 L88.5,811.9 L97.5,812.6 L104.0,812.8 L110.7,813.7 L111.5,806.7 L112.3,790.0 L113.2,770.0 L114.0,753.3 L114.8,736.7 L115.7,720.0 L116.5,703.3 L117.3,686.7 L118.4,672.0 L119.5,657.5 L119.8,640.3 L120.2,623.1 L120.5,605.9 L120.8,588.7 L121.2,571.5 L121.7,554.4 L122.9,545.8 L125.5,538.9 L129.8,535.5 L137.9,537.2 L146.9,536.1 L160.4,535.4 L169.4,536.6 L173.9,535.0 L175.8,535.0 L176.7,541.7 L177.5,558.3 L178.3,575.0 L178.8,591.7 L179.3,608.3 L179.8,625.0 L180.3,641.7 L180.8,660.0 L181.7,686.7 L182.5,703.3 L183.3,720.0 L184.0,736.7 L184.7,753.3 L185.3,770.0 L186.2,786.7 L186.7,803.3 L187.5,814.2 L190.0,814.2 L196.4,814.2 L207.6,813.5 L223.3,814.2 L235.0,814.7 L236.3,803.3 L237.5,786.7 L238.3,770.0 L239.3,753.3 L240.0,736.7 L240.8,720.0 L241.7,703.3 L242.5,686.7 L243.3,670.0 L244.0,658.3 L244.5,641.7 L245.0,625.0 L245.5,608.3 L246.0,591.7 L246.7,575.0 L247.5,558.3 L248.7,546.7 L250.8,538.3 L253.3,535.3 L270.0,537.7 L285.0,536.6 L296.9,536.6 L300.3,535.3 L301.5,541.7 L302.3,558.3 L302.8,575.0 L303.3,591.7 L303.8,608.3 L304.3,625.0 L304.8,641.7 L305.3,658.3 L306.0,675.0 L306.7,686.7 L307.3,703.3 L308.0,720.0 L308.7,736.7 L309.3,753.3 L310.0,770.0 L310.7,786.7 L311.3,803.3 L312.3,813.0 L315.3,813.3 L323.9,813.5 L346.4,813.5 L350.0,813.3 L354.2,811.7 L357.5,813.7 L360.0,814.2 L362.5,803.3 L364.7,786.7 L365.8,770.0 L366.7,753.3 L367.2,736.7 L367.7,720.0 L368.3,703.3 L368.8,686.7 L369.4,673.0 L370.3,650.0 L371.0,633.3 L371.7,616.7 L372.3,600.0 L373.0,583.3 L373.7,566.7 L374.7,550.0 L375.8,538.3 L377.5,534.2 L382.3,536.6 L393.0,535.4 L402.0,535.0 L420.0,535.4 L424.7,535.8 L426.0,541.7 L426.7,558.3 L427.5,575.0 L428.3,591.7 L429.0,608.3 L429.7,625.0 L430.3,641.7 L431.0,658.3 L431.9,675.0 L432.7,686.7 L433.2,703.3 L433.7,720.0 L434.2,736.7 L434.7,753.3 L435.2,770.0 L435.7,786.7 L436.2,803.3 L436.7,813.3 L439.7,813.3 L443.0,812.5 L463.8,811.9 L473.9,813.5 L480.7,813.7 L484.0,815.8 L487.3,810.0 L489.8,800.0 L490.7,786.7 L491.2,770.0 L491.7,753.3 L492.2,736.7 L492.7,720.0 L493.2,703.3 L493.8,686.7 L494.3,675.0 L494.7,658.3 L495.3,641.7 L496.0,625.0 L496.8,608.3 L497.7,591.7 L498.5,575.0 L499.3,558.3 L500.5,540.0 L502.2,535.3 L512.1,535.0 L530.0,536.0 L540.0,536.6 L546.7,535.4 L550.0,533.8 L551.2,538.3 L552.0,558.3 L552.8,575.0 L553.7,591.7 L554.3,608.3 L555.0,625.0 L555.7,641.7 L556.3,658.3 L557.0,672.0 L557.5,686.7 L558.0,703.3 L558.3,720.0 L558.8,736.7 L559.3,753.3 L559.8,770.0 L560.3,786.7 L561.2,800.0 L563.3,810.0 L566.7,813.7 L575.0,813.3 L593.9,813.5 L609.6,813.0 L613.0,816.4" fill="none" stroke="#4472C4" stroke-width="2.1" stroke-linejoin="round" stroke-linecap="round"/>
<path d="M84.0,660.6 L85.3,660.6 L86.9,661.8 L87.2,664.2 L87.6,663.5 L87.9,667.2 L88.2,666.9 L88.8,667.7 L89.5,669.9 L91.6,669.4 L91.8,669.3 L92.0,665.3 L92.2,665.7 L92.4,663.5 L93.1,660.5 L93.7,660.2 L95.0,659.3 L95.8,658.9 L96.6,657.2 L98.3,658.5 L99.3,658.3 L100.4,660.6 L101.5,662.2 L102.5,662.3 L103.5,662.6 L104.6,664.4 L105.4,666.5 L106.3,666.1 L107.2,665.9 L108.0,669.4 L108.7,668.5 L109.3,666.1 L110.2,664.1 L111.0,664.0 L111.4,666.8 L111.8,664.4 L112.2,667.7 L112.5,670.4 L112.8,669.0 L113.1,671.5 L114.2,673.0 L115.2,670.3 L116.2,668.6 L117.3,668.2 L118.5,669.0 L119.1,672.2 L119.6,670.5 L120.2,672.8 L120.9,675.0 L121.6,674.8 L122.3,677.0 L122.6,679.3 L122.9,677.7 L123.3,681.7 L123.6,682.1 L124.9,688.0 L125.2,688.2 L125.6,692.9 L125.9,693.0 L126.5,693.2 L127.0,697.2 L127.6,696.4 L128.2,698.5 L128.8,700.6 L129.3,700.4 L129.9,704.3 L130.5,704.1 L131.0,704.1 L131.4,707.6 L131.9,707.8 L133.3,706.9 L133.6,706.7 L133.9,710.6 L134.2,710.6 L134.9,708.6 L135.6,708.7 L136.1,712.1 L136.5,710.3 L136.9,714.5 L137.4,715.2 L138.1,712.3 L138.8,712.4 L139.3,715.0 L139.7,713.0 L140.2,716.1 L141.1,718.7 L142.1,718.0 L143.0,718.4 L143.9,720.8 L145.3,719.9 L146.2,723.3 L147.2,722.6 L148.6,722.8 L149.9,724.5 L150.8,726.7 L151.8,724.6 L152.7,727.3 L154.1,727.2 L155.5,725.4 L156.1,725.3 L156.8,728.5 L157.4,729.1 L158.1,725.9 L158.8,725.9 L159.4,729.0 L160.0,727.2 L160.6,730.0 L161.8,733.3 L162.9,732.8 L163.5,730.4 L164.2,731.7 L164.8,728.7 L165.6,728.6 L166.3,732.9 L167.1,732.8 L168.2,732.9 L169.4,735.6 L170.3,738.7 L171.3,736.0 L172.2,739.3 L173.1,741.5 L174.1,739.6 L175.0,742.1 L175.9,743.7 L176.9,742.3 L177.8,744.9 L178.7,747.4 L179.6,744.7 L180.5,747.7 L181.6,751.0 L182.7,750.6 L183.4,748.2 L184.1,749.0 L184.8,746.4 L185.5,743.4 L186.2,744.2 L186.9,742.2 L188.3,731.0 L189.7,722.7 L190.7,710.1 L191.2,710.2 L191.8,712.9 L192.2,712.4 L192.5,709.3 L192.9,708.7 L194.6,700.3 L194.9,699.6 L195.3,695.8 L195.6,696.9 L196.0,693.8 L196.3,694.6 L196.7,692.0 L197.7,690.8 L198.7,693.4 L199.2,695.5 L199.6,694.9 L200.1,697.6 L200.6,697.6 L201.0,692.9 L201.5,693.4 L202.9,685.0 L203.3,685.4 L203.7,680.3 L204.2,681.8 L204.6,678.2 L205.0,678.0 L205.5,680.5 L205.9,678.9 L206.4,682.2 L206.9,682.8 L207.3,678.6 L207.8,678.0 L208.5,680.3 L209.2,679.9 L209.9,682.2 L210.4,681.8 L210.9,678.1 L211.5,679.5 L212.0,676.6 L213.8,659.9 L215.5,658.5 L216.6,658.2 L217.6,659.9 L217.9,659.1 L218.3,655.9 L218.7,656.9 L219.0,654.3 L220.1,652.2 L221.1,652.9 L221.8,653.8 L222.5,648.9 L223.2,649.4 L224.2,651.5 L225.3,650.8 L226.0,648.1 L226.6,650.1 L227.3,647.3 L228.0,648.0 L228.7,652.0 L229.4,651.5 L230.8,643.1 L231.5,640.0 L232.2,642.3 L232.9,639.0 L233.6,638.6 L234.3,641.7 L235.0,641.5 L235.7,637.8 L236.4,637.6 L237.4,637.0 L238.5,634.8 L239.4,632.1 L240.4,633.2 L241.3,631.3 L241.8,632.2 L242.4,635.4 L242.9,635.2 L243.4,637.6 L243.9,640.1 L244.4,639.7 L245.0,642.3 L245.5,643.1 L246.0,642.0 L246.5,642.5 L247.0,645.4 L247.5,645.9 L248.9,654.7 L250.4,667.5 L251.2,667.4 L251.9,669.5 L252.9,667.5 L253.7,669.6 L254.4,670.5 L255.4,669.5 L256.3,672.4 L256.8,675.3 L257.3,674.2 L257.8,676.4 L258.8,678.8 L259.8,679.3 L260.8,676.7 L261.7,676.4 L262.9,677.0 L264.2,675.4 L265.0,673.6 L265.8,675.3 L266.6,672.4 L267.4,669.0 L268.3,671.1 L269.1,668.5 L269.9,666.2 L270.6,666.5 L271.2,668.6 L271.9,668.4 L272.5,670.5 L273.2,670.3 L273.8,666.8 L274.5,666.5 L275.2,666.9 L276.0,663.6 L277.5,662.6 L278.9,664.1 L279.6,662.0 L280.4,661.6 L282.4,660.6 L283.4,660.0 L284.3,658.2 L285.1,657.6 L285.8,661.1 L286.1,663.8 L286.3,663.0 L286.6,666.6 L286.8,666.5 L287.3,664.6 L287.8,665.3 L288.3,662.6 L289.1,658.8 L289.8,659.2 L291.7,658.7 L292.7,661.5 L293.7,660.6 L295.2,661.6 L295.7,661.3 L296.1,665.3 L296.6,665.6 L297.1,666.1 L297.6,669.7 L298.1,670.5 L298.5,670.2 L298.9,674.8 L299.2,673.2 L299.6,676.4 L301.1,669.5 L301.8,671.6 L302.5,671.5 L303.5,671.8 L304.5,673.9 L305.5,675.0 L306.5,672.4 L307.0,668.8 L307.4,671.3 L307.9,666.2 L308.4,666.5 L309.2,667.0 L310.1,662.2 L310.9,662.6 L311.7,662.6 L312.6,659.3 L313.4,659.7 L314.3,649.8 L315.0,639.6 L315.8,621.0 L316.7,610.1 L317.3,609.8 L317.9,607.2 L319.2,608.4 L319.6,606.4 L320.1,606.2 L320.5,604.2 L320.7,604.7 L320.9,608.1 L321.1,607.0 L321.3,610.1 L323.0,618.1 L323.4,618.6 L323.9,613.8 L324.3,613.5 L325.5,607.2 L326.1,610.7 L326.6,608.2 L327.2,611.8 L329.3,612.6 L330.0,616.0 L330.7,614.3 L331.4,616.8 L331.7,619.1 L332.1,618.6 L332.4,621.8 L332.8,621.3 L333.1,623.6 L333.8,623.7 L334.5,618.8 L335.2,619.4 L336.4,622.1 L337.7,621.1 L338.8,621.0 L339.9,623.6 L340.9,624.3 L342.0,621.9 L343.2,630.3 L344.2,627.7 L345.3,628.6 L346.1,630.2 L347.0,630.3 L347.9,627.5 L348.7,627.8 L349.5,628.5 L350.4,625.3 L351.2,622.0 L352.1,622.3 L352.5,625.4 L353.0,623.7 L353.4,627.3 L353.8,627.8 L355.1,627.3 L356.3,630.3 L357.6,632.7 L358.8,632.9 L360.1,631.9 L361.3,634.5 L361.9,635.4 L362.6,631.0 L363.2,632.3 L363.9,629.9 L364.7,629.1 L365.5,632.4 L366.2,632.6 L367.0,628.5 L367.7,627.8 L368.0,628.1 L369.5,639.2 L370.0,641.3 L370.5,640.9 L371.0,645.0 L371.5,644.3 L371.9,643.8 L372.2,647.8 L372.6,646.5 L372.9,651.8 L373.2,649.5 L373.6,652.4 L374.1,654.7 L374.6,653.3 L375.1,655.9 L376.1,655.9 L377.1,654.4 L379.1,655.4 L379.9,653.5 L380.6,652.9 L381.4,656.5 L382.2,655.9 L383.2,652.8 L384.2,652.9 L386.2,653.4 L386.9,656.3 L387.7,656.4 L389.7,656.4 L391.3,655.4 L392.3,654.6 L393.3,657.9 L395.3,657.9 L397.3,658.9 L399.3,657.9 L400.4,660.2 L401.4,659.9 L402.4,658.8 L403.4,661.5 L404.4,662.3 L405.4,659.4 L406.4,657.7 L407.4,657.9 L408.4,658.1 L409.5,656.4 L409.9,654.1 L410.2,654.8 L410.6,651.1 L411.0,651.3 L413.0,651.9 L414.0,652.1 L415.0,650.3 L416.0,650.1 L417.0,652.4 L418.6,651.3 L419.1,650.6 L419.6,646.3 L420.1,647.9 L420.6,645.3 L421.1,645.7 L421.6,650.1 L422.1,650.3 L422.9,649.9 L423.6,653.4 L424.6,656.1 L425.6,656.4 L426.6,653.7 L427.7,654.9 L429.7,653.9 L431.7,653.4 L433.2,654.3 L434.7,652.4 L435.4,649.9 L436.0,650.2 L437.0,639.4 L438.5,632.5 L439.2,632.9 L439.9,630.6 L441.4,631.5 L442.4,629.9 L443.4,629.6 L444.1,632.6 L444.8,633.0 L446.3,632.5 L446.8,630.3 L447.3,630.5 L447.8,628.6 L448.5,625.5 L449.1,626.9 L449.8,624.7 L450.5,624.8 L451.2,627.6 L451.7,630.5 L452.2,628.5 L452.7,631.1 L453.2,630.8 L453.7,627.0 L454.2,628.4 L454.7,625.6 L455.6,625.1 L456.6,628.1 L458.1,627.6 L459.6,620.7 L460.6,620.5 L461.6,618.8 L462.6,616.6 L463.5,617.3 L465.5,617.8 L466.2,617.5 L467.0,615.3 L468.4,616.8 L469.9,618.3 L470.2,618.9 L470.6,623.3 L470.9,623.2 L472.4,621.7 L474.3,621.2 L475.0,621.0 L475.6,625.0 L476.3,624.7 L478.3,624.7 L480.2,624.7 L480.7,621.5 L481.2,623.7 L481.7,620.2 L482.9,618.7 L484.2,619.7 L485.1,619.8 L486.1,616.8 L487.6,627.6 L488.0,624.8 L488.4,626.0 L488.7,621.5 L489.1,621.7 L490.6,622.7 L492.0,632.5 L493.0,635.3 L494.0,635.5 L495.0,635.1 L496.0,637.4 L496.4,640.2 L496.8,638.3 L497.1,643.5 L497.5,643.3 L499.4,644.3 L500.0,642.2 L500.6,639.2 L501.3,640.1 L501.7,643.6 L502.1,642.2 L502.5,644.7 L503.4,644.9 L504.2,642.2 L505.2,639.5 L506.3,640.9 L507.0,641.5 L507.7,637.6 L508.4,637.1 L509.2,638.9 L510.1,639.2 L511.2,638.8 L512.2,640.9 L513.0,643.1 L513.9,643.9 L514.8,643.7 L515.6,645.5 L517.3,646.4 L519.0,638.8 L520.6,645.5 L521.5,645.0 L522.3,643.0 L523.3,642.6 L524.4,645.5 L525.7,647.5 L527.0,646.0 L527.4,642.7 L527.8,644.1 L528.2,640.2 L528.6,640.5 L529.0,640.7 L529.5,636.9 L529.9,636.3 L530.8,639.9 L531.6,639.6 L532.2,638.7 L532.7,642.8 L533.3,643.0 L533.9,642.0 L534.5,645.1 L534.9,644.7 L535.4,640.6 L535.8,642.5 L536.2,638.8 L537.5,640.5 L538.1,639.9 L538.8,643.0 L539.2,642.4 L539.6,638.8 L540.0,639.9 L540.4,637.1 L540.8,634.6 L541.2,635.2 L541.7,631.9 L542.1,631.6 L542.7,634.8 L543.2,634.1 L543.8,636.3 L545.1,644.7 L546.3,633.8 L547.0,636.9 L547.6,637.1 L548.5,634.6 L549.3,634.6 L549.7,636.7 L550.1,636.5 L550.6,640.6 L551.0,640.5 L551.4,637.4 L551.8,637.8 L552.2,635.4 L553.9,625.3 L554.3,621.6 L554.6,623.7 L555.0,620.3 L555.4,617.0 L555.9,618.6 L556.3,615.6 L556.7,615.3 L558.4,606.8 L558.8,606.1 L559.2,602.2 L559.6,602.6 L560.9,604.3 L561.1,603.8 L561.3,600.6 L561.5,601.1 L561.7,598.4 L562.4,597.7 L563.0,601.0 L564.3,601.0 L564.6,604.3 L564.9,602.9 L565.2,606.2 L565.5,606.8 L566.1,606.5 L566.8,610.2 L567.2,610.1 L567.7,605.5 L568.1,605.6 L568.4,607.6 L568.6,607.4 L568.9,609.4 L570.2,616.1 L571.4,614.4 L572.0,617.3 L572.7,617.0 L573.0,617.1 L573.4,620.4 L573.7,619.0 L574.1,623.9 L574.4,623.7 L575.0,623.6 L575.6,627.1 L576.9,620.3 L578.6,619.5 L579.5,619.0 L580.3,617.0 L582.0,617.0 L582.4,616.6 L582.8,620.6 L583.2,619.5 L583.6,622.9 L584.9,624.5 L585.8,624.7 L586.6,622.4 L587.5,622.8 L588.3,625.4 L588.7,628.2 L589.1,626.2 L589.5,629.6 L591.2,622.0 L591.9,624.3 L592.5,624.5 L592.8,625.1 L593.2,628.6 L593.5,627.6 L593.9,630.7 L594.2,631.3 L595.4,630.4 L596.7,615.7 L597.1,616.4 L597.6,619.4 L598.0,620.3 L598.4,621.1 L598.8,624.8 L599.2,625.4 L600.0,622.8 L600.9,622.4 L601.5,625.2 L602.2,624.5 L602.8,624.7 L603.3,628.4 L603.9,628.3 L605.5,628.8 L607.2,621.2 L608.9,620.8 L609.5,621.5 L610.0,625.0 L610.6,625.4 L611.2,625.9 L611.7,628.6 L612.3,628.8" fill="none" stroke="#ED7D31" stroke-width="2.4" stroke-linejoin="round" stroke-linecap="round"/>
<path d="M84.0,660.6 L85.7,659.7 L87.8,661.0 L90.3,661.4 L91.3,660.8 L92.4,658.9 L94.1,657.6 L95.8,656.8 L97.9,658.5 L100.4,659.7 L103.0,660.6 L105.5,660.6 L107.0,658.6 L108.4,658.1 L111.0,658.9 L113.5,660.2 L116.0,661.0 L117.7,659.7 L118.5,653.4 L119.4,645.0 L120.6,629.8 L122.2,641.1 L123.6,647.5 L124.4,650.2 L125.3,650.9 L125.9,652.0 L126.4,655.0 L127.0,656.0 L128.2,657.4 L129.5,660.2 L130.3,661.8 L131.2,662.7 L131.6,663.7 L132.0,666.8 L132.4,667.7 L132.8,668.5 L133.3,671.4 L133.7,672.8 L134.3,674.3 L134.8,677.0 L135.4,678.7 L136.2,676.1 L137.1,675.3 L137.7,678.1 L138.2,679.0 L138.8,681.2 L139.6,684.4 L140.4,685.4 L140.8,686.3 L141.1,689.3 L141.9,691.9 L142.7,692.2 L143.5,694.8 L144.8,696.5 L146.2,697.6 L147.6,698.5 L149.0,699.9 L150.9,701.8 L152.3,704.1 L153.7,701.8 L156.4,702.7 L159.2,703.6 L159.8,706.0 L160.5,706.7 L161.1,708.7 L162.5,715.2 L163.2,717.4 L163.9,718.9 L166.2,720.8 L167.1,722.7 L168.0,725.4 L169.4,726.3 L171.3,724.5 L172.2,717.1 L172.7,707.8 L172.9,693.9 L173.1,680.0 L173.9,607.4 L175.0,540.0 L176.1,546.7 L176.7,548.6 L177.2,549.4 L177.8,552.3 L178.4,553.4 L179.5,554.1 L180.7,557.5 L181.8,557.7 L182.9,560.2 L184.4,561.9 L185.9,561.6 L187.4,563.5 L189.7,564.7 L191.9,564.7 L194.2,564.2 L196.4,564.7 L197.9,566.5 L199.4,565.1 L200.9,566.9 L202.4,569.4 L203.8,569.1 L205.3,571.4 L206.4,573.3 L207.6,573.8 L208.7,576.1 L209.8,577.0 L211.5,577.9 L213.2,579.3 L214.9,578.5 L216.6,575.9 L218.1,574.6 L219.6,575.4 L221.1,573.7 L223.3,573.2 L225.6,574.8 L227.8,572.7 L230.1,573.7 L232.0,574.0 L234.0,573.4 L235.9,574.9 L237.8,573.3 L239.7,575.1 L241.7,573.5 L243.6,574.1 L245.3,575.3 L246.9,575.3 L248.6,577.0 L250.9,578.1 L251.5,607.4 L252.4,629.8 L254.2,647.8 L256.5,664.7 L257.6,667.5 L258.7,668.0 L259.8,670.3 L260.6,672.3 L261.5,673.2 L262.4,676.5 L263.2,677.1 L264.9,676.2 L266.5,677.1 L267.2,679.2 L267.9,680.3 L268.6,682.8 L269.3,684.0 L270.0,686.1 L271.1,688.5 L272.2,688.7 L273.3,690.6 L275.0,690.2 L276.7,688.3 L278.2,689.2 L279.7,691.7 L281.2,692.8 L282.3,693.3 L283.4,695.9 L284.6,696.2 L285.7,698.4 L287.9,714.2 L289.0,716.0 L290.2,716.6 L291.3,718.7 L293.0,720.2 L294.7,720.9 L296.4,721.0 L298.0,722.0 L299.7,724.8 L301.4,725.4 L302.5,725.6 L303.7,727.6 L304.8,685.0 L305.5,620.0 L305.9,584.9 L307.0,574.8 L308.7,573.6 L310.4,571.4 L312.1,568.7 L313.8,568.0 L315.5,569.0 L317.2,569.2 L319.4,569.7 L321.6,571.4 L323.9,572.9 L326.1,572.5 L327.5,572.8 L329.0,575.0 L330.4,574.8 L331.8,577.0 L332.9,576.0 L334.0,573.8 L335.1,573.7 L336.2,571.4 L337.9,569.8 L339.6,569.2 L341.1,570.8 L342.6,571.1 L344.1,572.5 L345.6,572.0 L347.1,570.3 L348.6,570.3 L350.8,570.2 L353.0,569.2 L354.9,568.1 L356.8,568.9 L358.7,568.0 L360.7,567.4 L362.6,569.1 L364.6,567.4 L366.6,568.0 L368.5,569.1 L370.3,567.8 L372.2,569.2 L373.9,571.2 L375.6,572.5 L376.7,584.9 L377.8,618.6 L377.8,660.2 L378.5,661.7 L379.2,664.8 L379.8,664.7 L380.5,667.8 L381.2,669.2 L381.8,670.7 L382.3,673.8 L382.9,673.8 L383.5,677.0 L384.0,677.5 L384.6,680.4 L385.7,696.2 L386.6,698.9 L387.4,698.8 L388.2,701.8 L389.1,702.9 L391.3,711.9 L392.1,713.3 L393.0,715.3 L394.5,714.8 L396.0,712.7 L397.5,713.0 L399.2,712.9 L400.9,711.9 L402.7,711.4 L404.5,712.5 L405.8,714.3 L407.0,715.3 L407.8,716.4 L408.7,720.2 L409.5,721.5 L410.4,723.4 L411.2,726.2 L412.2,728.5 L413.3,729.2 L414.3,732.2 L415.4,733.8 L416.4,734.9 L417.5,737.5 L418.6,737.3 L419.6,739.7 L420.7,741.9 L421.7,742.2 L422.8,745.2 L423.8,745.6 L425.6,745.4 L427.5,746.0 L428.0,744.5 L428.5,742.1 L429.0,741.4 L429.5,739.0 L430.1,707.4 L431.2,662.5 L431.9,607.4 L432.3,571.4 L433.9,584.9 L435.2,585.8 L436.6,587.5 L437.9,588.3 L440.1,588.3 L442.4,589.4 L443.9,589.3 L445.4,587.5 L446.9,587.1 L448.4,586.9 L449.9,584.6 L451.4,584.9 L452.9,584.8 L454.4,581.8 L455.9,581.5 L457.4,583.5 L458.9,583.0 L460.4,584.9 L462.7,585.3 L465.0,585.0 L467.2,585.8 L469.4,587.1 L470.5,585.9 L471.6,583.3 L472.8,583.7 L473.9,581.5 L476.1,579.9 L478.4,580.4 L479.9,582.1 L481.4,582.6 L482.9,584.9 L484.0,596.1 L485.1,629.8 L486.2,685.0 L486.7,720.0 L487.3,731.2 L488.7,730.2 L490.1,727.9 L490.7,728.7 L491.2,731.7 L491.8,731.8 L492.4,734.6 L494.0,742.5 L494.8,744.3 L495.5,744.8 L496.3,747.0 L497.1,750.1 L498.0,751.5 L500.2,761.6 L501.4,761.7 L502.5,763.8 L504.1,765.8 L505.8,766.1 L506.9,766.8 L508.1,770.0 L509.2,770.6 L510.9,770.0 L511.8,767.3 L512.8,767.1 L513.7,764.9 L514.6,762.6 L515.6,762.9 L516.5,760.4 L517.6,760.9 L518.8,763.3 L520.2,763.3 L521.6,762.1 L523.0,761.8 L524.4,763.3 L525.8,765.1 L527.2,764.9 L528.1,765.7 L529.1,768.7 L530.0,769.4 L530.9,770.6 L531.7,772.8 L534.0,773.2 L536.2,772.2 L538.1,771.4 L539.9,772.3 L541.8,771.9 L543.7,771.0 L545.5,772.7 L547.4,771.5 L549.3,770.4 L551.1,772.1 L553.0,771.1 L555.2,770.9 L557.5,771.7 L558.1,774.8 L558.7,776.2 L560.6,752.4 L562.0,685.0 L563.6,652.4 L565.8,664.7 L567.3,664.7 L568.8,666.8 L570.3,667.0 L572.2,666.8 L574.0,668.7 L575.9,669.2 L577.8,669.5 L579.6,671.7 L581.5,672.6 L582.9,673.3 L584.3,676.0 L585.7,676.4 L587.1,678.2 L588.8,679.6 L590.5,678.7 L592.2,680.6 L593.9,680.4 L595.6,680.2 L597.2,682.5 L598.9,682.7 L600.6,683.8 L602.9,683.9 L605.1,682.3 L607.4,682.7 L608.9,682.3 L610.4,680.8 L611.9,680.4" fill="none" stroke="#000" stroke-width="2.3" stroke-dasharray="2.6 4.4" stroke-linecap="round" stroke-linejoin="round"/>
<line x1="84.0" y1="438.1" x2="129.8" y2="438.1" stroke="#4472C4" stroke-width="2.2"/>
<line x1="406.9" y1="438.1" x2="452.0" y2="438.1" stroke="#ED7D31" stroke-width="2.2"/>
<line x1="84.0" y1="468.8" x2="132.4" y2="468.8" stroke="#000" stroke-width="2.3" stroke-dasharray="4.9 2.1"/>
<text x="133.40" y="443.80" font-size="19.2" fill="#000" text-anchor="start" >Compressive Stress (628 kPa)</text>
<text x="456.20" y="443.80" font-size="19.2" fill="#000" text-anchor="start" >FCR (Condition Figure 3c)</text>
<text x="133.90" y="475.00" font-size="19.2" fill="#000" text-anchor="start" >FCR (Condition Figure 3d)</text>
<text x="354" y="921.70" font-size="16.8" text-anchor="middle">(<tspan font-weight="bold">b</tspan>)</text>
</svg>
</body></html>
